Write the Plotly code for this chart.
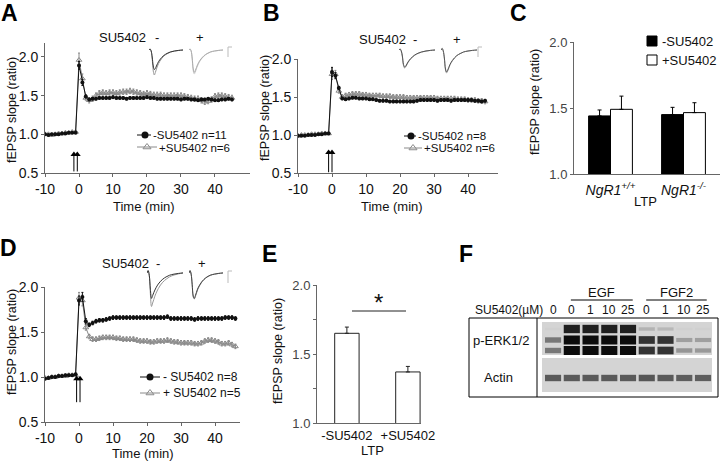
import plotly.graph_objects as go

W, H = 720, 462
FONT = "Liberation Sans, Arial, Helvetica, sans-serif"

# ------------------------------------------------------------------ data
time_ab = list(range(-10, 46))
time_d = list(range(-10, 47))

a_ctrl = [1.00, 0.99, 1.00, 1.00, 1.00, 1.01, 1.01, 1.02, 1.02, 1.02,
          1.89, 1.67, 1.49, 1.45, 1.46, 1.46, 1.47, 1.47, 1.47, 1.47,
          1.48, 1.47, 1.47, 1.47, 1.46, 1.47, 1.47, 1.47, 1.47, 1.47,
          1.48, 1.47, 1.47, 1.46, 1.46, 1.46, 1.46, 1.46, 1.46, 1.46,
          1.45, 1.46, 1.46, 1.45, 1.45, 1.44, 1.45, 1.45, 1.46, 1.45,
          1.44, 1.44, 1.45, 1.45, 1.46, 1.45]
a_ctrl_err = [0.01] * 10 + [0.05, 0.04, 0.02] + [0.015] * 43
a_su = [1.00, 1.00, 0.99, 1.00, 1.01, 1.01, 1.02, 1.02, 1.03, 1.03,
        1.96, 1.72, 1.47, 1.44, 1.46, 1.50, 1.53, 1.54, 1.53, 1.54,
        1.54, 1.53, 1.54, 1.55, 1.55, 1.56, 1.55, 1.54, 1.53, 1.52,
        1.53, 1.52, 1.51, 1.51, 1.51, 1.50, 1.50, 1.50, 1.50, 1.50,
        1.50, 1.49, 1.48, 1.47, 1.46, 1.46, 1.44, 1.42, 1.43, 1.45,
        1.49, 1.50, 1.50, 1.49, 1.48, 1.47]
a_su_err = [0.015] * 10 + [0.09, 0.06, 0.03] + [0.035] * 43

b_ctrl = [0.99, 0.99, 0.99, 1.00, 1.00, 1.00, 1.01, 1.01, 1.02, 1.02,
          1.83, 1.78, 1.62, 1.48, 1.47, 1.48, 1.49, 1.49, 1.48, 1.48,
          1.48, 1.47, 1.47, 1.46, 1.45, 1.45, 1.45, 1.44, 1.44, 1.44,
          1.44, 1.44, 1.44, 1.44, 1.44, 1.45, 1.46, 1.46, 1.46, 1.46,
          1.46, 1.45, 1.46, 1.46, 1.46, 1.45, 1.46, 1.46, 1.46, 1.46,
          1.46, 1.46, 1.45, 1.45, 1.44, 1.45]
b_ctrl_err = [0.01] * 10 + [0.06, 0.04, 0.02] + [0.015] * 43
b_su = [0.99, 1.00, 1.00, 1.00, 1.01, 1.01, 1.01, 1.02, 1.02, 1.02,
        1.80, 1.80, 1.58, 1.50, 1.52, 1.53, 1.54, 1.54, 1.54, 1.53,
        1.53, 1.52, 1.52, 1.52, 1.52, 1.51, 1.51, 1.51, 1.50, 1.50,
        1.50, 1.50, 1.49, 1.49, 1.49, 1.49, 1.49, 1.49, 1.49, 1.49,
        1.49, 1.48, 1.48, 1.48, 1.48, 1.48, 1.48, 1.47, 1.47, 1.47,
        1.46, 1.46, 1.46, 1.45, 1.45, 1.44]
b_su_err = [0.015] * 10 + [0.07, 0.05, 0.03] + [0.03] * 43

d_ctrl = [0.98, 0.99, 1.00, 1.00, 1.01, 1.01, 1.02, 1.02, 1.02, 1.03,
          1.85, 1.89, 1.62, 1.58, 1.60, 1.62, 1.63, 1.63, 1.64, 1.65,
          1.66, 1.66, 1.66, 1.66, 1.66, 1.66, 1.66, 1.66, 1.66, 1.66,
          1.66, 1.66, 1.66, 1.66, 1.66, 1.66, 1.67, 1.65, 1.65, 1.65,
          1.65, 1.65, 1.65, 1.65, 1.64, 1.65, 1.65, 1.65, 1.65, 1.65,
          1.65, 1.65, 1.65, 1.66, 1.66, 1.66, 1.65]
d_ctrl_err = [0.01] * 10 + [0.05, 0.05, 0.03] + [0.02] * 44
d_su = [0.99, 0.99, 1.00, 1.00, 1.01, 1.01, 1.01, 1.02, 1.02, 1.02,
        1.88, 1.85, 1.55, 1.45, 1.42, 1.42, 1.43, 1.44, 1.44, 1.44,
        1.44, 1.43, 1.43, 1.42, 1.42, 1.42, 1.42, 1.41, 1.40, 1.40,
        1.40, 1.39, 1.39, 1.40, 1.40, 1.40, 1.41, 1.40, 1.39, 1.39,
        1.38, 1.38, 1.38, 1.38, 1.37, 1.37, 1.38, 1.40, 1.41, 1.41,
        1.40, 1.39, 1.37, 1.37, 1.38, 1.36, 1.34]
d_su_err = [0.015] * 10 + [0.06, 0.06, 0.03] + [0.025] * 44

# theta-burst stimulation times (min) and arrow extent (ratio units)
a_stim = [-1.5, -0.5]
a_arrow = [0.52, 0.74]
b_stim = [-1.0, 0.0]
b_arrow = [0.51, 0.77]
d_stim = [-0.7, 0.3]
d_arrow = [0.72, 0.98]

ab_ticks = [-10, 0, 10, 20, 30, 40]
ab_ticktext = ["-10", "0", "10", "20", "30", "40"]
ratio_ticks = [0.5, 1.0, 1.5, 2.0]
bar_ticks = [1.0, 1.5, 2.0]

c_groups = ["NgR1+/+", "NgR1-/-"]
c_ticktext = ["<i>NgR1<sup>+/+</sup></i>", "<i>NgR1<sup>-/-</sup></i>"]
c_ctrl = [1.44, 1.45]
c_ctrl_err = [0.045, 0.055]
c_su = [1.49, 1.465]
c_su_err = [0.10, 0.075]

e_groups = ["-SU5402", "+SU5402"]
e_vals = [1.65, 1.37]
e_err = [0.045, 0.04]

# example fEPSP traces (inset), time in ms, amplitude in mV
wave_t = [0, 1, 2, 3, 4, 5, 6, 7, 8, 10, 12, 14, 17, 20, 24, 28, 32]
a_minus_pre = [0, 0.05, -0.05, -0.35, -0.80, -0.98, -0.92, -0.80, -0.68, -0.50, -0.37, -0.27, -0.17, -0.10, -0.05, -0.02, 0]
a_minus_post = [0, 0.05, -0.05, -0.45, -1.05, -1.25, -1.12, -0.95, -0.80, -0.58, -0.42, -0.30, -0.19, -0.11, -0.05, -0.02, 0]
a_plus_pre = [0, 0.05, -0.05, -0.40, -0.95, -1.12, -1.02, -0.88, -0.74, -0.54, -0.40, -0.29, -0.18, -0.10, -0.05, -0.02, 0]
a_plus_post = [0, 0.05, -0.05, -0.45, -1.05, -1.20, -1.10, -0.94, -0.80, -0.58, -0.43, -0.31, -0.19, -0.11, -0.05, -0.02, 0]
b_minus_pre = [0, 0.05, -0.05, -0.30, -0.72, -0.85, -0.80, -0.70, -0.60, -0.45, -0.34, -0.25, -0.16, -0.10, -0.05, -0.02, 0]
b_minus_post = [0, 0.05, -0.05, -0.33, -0.78, -0.90, -0.84, -0.74, -0.63, -0.47, -0.35, -0.26, -0.17, -0.10, -0.05, -0.02, 0]
b_plus_pre = [0, 0.08, -0.05, -0.40, -0.95, -1.10, -1.00, -0.86, -0.72, -0.53, -0.39, -0.28, -0.18, -0.10, -0.05, -0.02, 0]
b_plus_post = [0, 0.08, -0.05, -0.42, -1.00, -1.15, -1.05, -0.90, -0.75, -0.55, -0.40, -0.29, -0.18, -0.10, -0.05, -0.02, 0]
d_minus_pre = [0, 0.10, -0.10, -0.70, -1.10, -0.98, -0.85, -0.74, -0.64, -0.48, -0.36, -0.27, -0.17, -0.10, -0.05, -0.02, 0]
d_minus_post = [0, 0.10, -0.10, -0.90, -1.45, -1.30, -1.15, -1.00, -0.88, -0.68, -0.52, -0.40, -0.27, -0.17, -0.09, -0.04, 0]
d_plus_pre = [0, 0.10, -0.05, -0.50, -1.00, -1.10, -0.98, -0.84, -0.70, -0.52, -0.38, -0.28, -0.17, -0.10, -0.05, -0.02, 0]
d_plus_post = [0, 0.10, -0.05, -0.52, -1.04, -1.12, -1.02, -0.88, -0.74, -0.55, -0.40, -0.29, -0.18, -0.10, -0.05, -0.02, 0]

# western blot
blot_lanes = [0, 1, 2, 3, 4, 5, 6, 7, 8]
blot_lane_labels = ["0", "0", "1", "10", "25", "0", "1", "10", "25"]
perk_upper = [0.0, 0.9, 0.9, 0.9, 0.9, 0.15, 0.12, 0.0, 0.0]
perk_p44 = [0.45, 1.0, 1.0, 1.0, 1.0, 0.8, 0.8, 0.25, 0.25]
perk_p42 = [0.45, 1.0, 1.0, 1.0, 1.0, 0.8, 0.8, 0.3, 0.28]
actin = [0.6, 0.6, 0.6, 0.6, 0.6, 0.62, 0.6, 0.58, 0.58]

# ------------------------------------------------------------------ helpers
def X(p):
    return p / W


def Y(p):
    return 1 - p / H


def dx(a, b):
    return [a / W, b / W]


def dy(top, bottom):
    return [1 - bottom / H, 1 - top / H]


AXC = "#666666"


def axis(**kw):
    d = dict(showline=True, linecolor=AXC, linewidth=1, ticks="outside", ticklen=3,
             tickcolor=AXC, tickfont=dict(size=14, color="#111", family=FONT),
             showgrid=False, zeroline=False, fixedrange=True)
    d.update(kw)
    return d


def hidden(**kw):
    d = dict(visible=False, showgrid=False, zeroline=False, fixedrange=True)
    d.update(kw)
    return d


BLACK = "#111111"
GRAY = "#8a8a8a"

fig = go.Figure()


def ts_pair(t, ctrl, ctrl_err, su, su_err, stim, arrow, xa, ya):
    fig.add_trace(go.Scatter(
        x=t, y=su, mode="lines+markers", xaxis=xa, yaxis=ya, showlegend=False,
        line=dict(color=GRAY, width=1),
        marker=dict(symbol="triangle-up-open", size=5, color=GRAY, line=dict(width=1, color=GRAY)),
        error_y=dict(type="data", array=su_err, color=GRAY, thickness=1, width=1)))
    fig.add_trace(go.Scatter(
        x=t, y=ctrl, mode="lines+markers", xaxis=xa, yaxis=ya, showlegend=False,
        line=dict(color=BLACK, width=1),
        marker=dict(symbol="circle", size=4, color=BLACK),
        error_y=dict(type="data", array=ctrl_err, color=BLACK, thickness=1, width=1)))
    # stimulation arrows
    lx, ly = [], []
    for s in stim:
        lx += [s, s, None]
        ly += [arrow[0], arrow[1], None]
    fig.add_trace(go.Scatter(x=lx, y=ly, mode="lines", xaxis=xa, yaxis=ya, showlegend=False,
                             line=dict(color="#000", width=1)))
    fig.add_trace(go.Scatter(x=stim, y=[arrow[1]] * len(stim), mode="markers", xaxis=xa, yaxis=ya,
                             showlegend=False,
                             marker=dict(symbol="triangle-up", size=6, color="#000", line=dict(width=0))))


ts_pair(time_ab, a_ctrl, a_ctrl_err, a_su, a_su_err, a_stim, a_arrow, "x", "y")
ts_pair(time_ab, b_ctrl, b_ctrl_err, b_su, b_su_err, b_stim, b_arrow, "x2", "y2")
ts_pair(time_d, d_ctrl, d_ctrl_err, d_su, d_su_err, d_stim, d_arrow, "x4", "y4")

# panel C bars
fig.add_trace(go.Bar(x=c_groups, y=c_ctrl, xaxis="x3", yaxis="y3", showlegend=False,
                     marker=dict(color="#000", line=dict(color="#000", width=1)),
                     error_y=dict(type="data", symmetric=False, array=c_ctrl_err, arrayminus=[0, 0],
                                  color="#000", thickness=1, width=2)))
fig.add_trace(go.Bar(x=c_groups, y=c_su, xaxis="x3", yaxis="y3", showlegend=False,
                     marker=dict(color="#fff", line=dict(color="#000", width=1)),
                     error_y=dict(type="data", symmetric=False, array=c_su_err, arrayminus=[0, 0],
                                  color="#000", thickness=1, width=2)))

# panel E bars
fig.add_trace(go.Bar(x=e_groups, y=e_vals, xaxis="x5", yaxis="y5", showlegend=False, width=0.4,
                     marker=dict(color="#fff", line=dict(color="#222", width=1)),
                     error_y=dict(type="data", symmetric=False, array=e_err, arrayminus=[0, 0],
                                  color="#222", thickness=1, width=2)))

# insets
insets = [
    ("x6", "y6", a_minus_pre, a_minus_post, "#333", "#999"),
    ("x7", "y7", a_plus_pre, a_plus_post, "#aaa", "#cfcfcf"),
    ("x8", "y8", b_minus_pre, b_minus_post, "#555", "#999"),
    ("x9", "y9", b_plus_pre, b_plus_post, "#555", "#aaa"),
    ("x10", "y10", d_minus_pre, d_minus_post, "#333", "#999"),
    ("x11", "y11", d_plus_pre, d_plus_post, "#444", "#999"),
]
for xa, ya, pre, post, c1, c2 in insets:
    fig.add_trace(go.Scatter(x=wave_t, y=post, mode="lines", xaxis=xa, yaxis=ya, showlegend=False,
                             line=dict(color=c2, width=1), line_shape="spline"))
    fig.add_trace(go.Scatter(x=wave_t, y=pre, mode="lines", xaxis=xa, yaxis=ya, showlegend=False,
                             line=dict(color=c1, width=1), line_shape="spline"))

# blot bands
def band_color(v):
    g = int(round(208 - 196 * v))
    return f"rgb({g},{g},{g})"


for center, vals in [(7, perk_upper), (18, perk_p44), (28.5, perk_p42), (56, actin)]:
    th = [2.5 + 6.5 * v for v in vals]
    fig.add_trace(go.Bar(x=blot_lanes, y=th, base=[center - t / 2 for t in th],
                         xaxis="x12", yaxis="y12", showlegend=False, width=0.86, offset=-0.43,
                         marker=dict(color=[band_color(v) for v in vals], line=dict(width=0))))

# legends (deco axis in pixel units)
def legend_row(x0, x1, xm, y, style):
    if style == "ctrl":
        fig.add_trace(go.Scatter(x=[x0, x1], y=[y, y], mode="lines", xaxis="x13", yaxis="y13",
                                 showlegend=False, line=dict(color=BLACK, width=1)))
        fig.add_trace(go.Scatter(x=[xm], y=[y], mode="markers", xaxis="x13", yaxis="y13",
                                 showlegend=False, marker=dict(symbol="circle", size=7, color=BLACK)))
    else:
        fig.add_trace(go.Scatter(x=[x0, x1], y=[y, y], mode="lines", xaxis="x13", yaxis="y13",
                                 showlegend=False, line=dict(color=GRAY, width=1)))
        fig.add_trace(go.Scatter(x=[xm], y=[y], mode="markers", xaxis="x13", yaxis="y13",
                                 showlegend=False,
                                 marker=dict(symbol="triangle-up-open", size=7, color=GRAY,
                                             line=dict(width=1, color=GRAY))))


legend_row(137, 151, 145, 135, "ctrl")
legend_row(137, 157, 147, 147, "su")
legend_row(404, 416, 411, 136, "ctrl")
legend_row(404, 422, 413, 148, "su")
legend_row(140, 160, 150, 377, "ctrl")
legend_row(140, 160, 150, 393, "su")
fig.add_trace(go.Scatter(x=[652, 652], y=[41, 60], mode="markers", xaxis="x13", yaxis="y13",
                         showlegend=False,
                         marker=dict(symbol="square", size=10, color=["#000", "#fff"],
                                     line=dict(color="#000", width=1))))

# ------------------------------------------------------------------ layout
ann = []


def txt(x, y, s, size=12, xanchor="center", color="#111", bold=False, angle=0, xref="paper"):
    if bold:
        s = f"<b>{s}</b>"
    ann.append(dict(x=x, y=Y(y), xref=xref, yref="paper", text=s, showarrow=False,
                    xanchor=xanchor, yanchor="middle", textangle=angle,
                    font=dict(size=size, color=color, family=FONT)))


def xt(p):
    return p / W


# panel letters
for s, x, y in [("A", 9, 13), ("B", 271, 13), ("C", 518, 13), ("D", 8, 248), ("E", 269, 254), ("F", 466, 254)]:
    txt(xt(x), y, s, size=23, bold=True, color="#000")

# axis titles
yt = "fEPSP slope (ratio)"
txt(xt(12), 110, yt, angle=-90, size=12.5)
txt(xt(265), 108, yt, angle=-90, size=12.5)
txt(xt(535), 102, yt, angle=-90, size=12.5)
txt(xt(12), 342, yt, angle=-90, size=12.5)
txt(xt(278), 351, yt, angle=-90, size=12.5)
txt(xt(144), 206, "Time (min)", size=13)
txt(xt(392), 206, "Time (min)", size=13)
txt(xt(143), 453, "Time (min)", size=13)
txt(xt(645), 202, "LTP", size=13)
txt(xt(372), 450, "LTP", size=13)

# SU5402 labels over insets
for (cx, cy, m, p) in [(122, 37, 157, 200), (382, 40, 415, 457), (126, 263, 158, 202)]:
    txt(xt(cx), cy, "SU5402", size=13)
    txt(xt(m), cy, "-", size=13)
    txt(xt(p), cy, "+", size=13)

# legends text
txt(xt(151), 135, "-SU5402 n=11", xanchor="left", size=11.5)
txt(xt(157), 147.5, "+SU5402 n=6", xanchor="left", size=11.5)
txt(xt(416), 136, "-SU5402 n=8", xanchor="left", size=11.5)
txt(xt(422), 148.5, "+SU5402 n=6", xanchor="left", size=11.5)
txt(xt(161), 377, "- SU5402 n=8", xanchor="left", size=12)
txt(xt(161), 393, "+ SU5402 n=5", xanchor="left", size=12)
txt(xt(660), 41, "-SU5402", xanchor="left", size=13)
txt(xt(660), 60, "+SU5402", xanchor="left", size=13)

# significance
txt(xt(378), 302, "*", size=24)

# blot labels
txt(xt(545), 310, "SU5402(µM)", xanchor="right")
for i, lab in zip(blot_lanes, blot_lane_labels):
    txt(i, 310, lab, xref="x12")
txt(2.6, 292, "EGF", xref="x12", size=13)
txt(6.6, 292, "FGF2", xref="x12", size=13)
txt(xt(501), 340, "p-ERK1/2", size=13)
txt(xt(498), 377, "Actin", size=13)

shapes = []
# significance line
shapes.append(dict(type="line", xref="paper", yref="paper", x0=X(352), x1=X(406), y0=Y(311), y1=Y(311),
                   line=dict(color="#222", width=1)))
# scale bars of insets
for (sx, sy, sh) in [(228, 47, 10), (478, 47, 10), (228, 271, 12)]:
    shapes.append(dict(type="path", xref="paper", yref="paper",
                       path=f"M {X(sx)},{Y(sy + sh)} L {X(sx)},{Y(sy)} L {X(sx + 4)},{Y(sy)}",
                       line=dict(color="#bbbbbb", width=1)))
# blot frame
shapes.append(dict(type="rect", xref="paper", yref="paper", x0=X(469), x1=X(718), y0=Y(397), y1=Y(318),
                   line=dict(color="#000", width=1)))
shapes.append(dict(type="line", xref="paper", yref="paper", x0=X(537), x1=X(537), y0=Y(397), y1=Y(318),
                   line=dict(color="#000", width=1)))
# blot backgrounds
for y0, y1 in [(0, 33), (36, 70)]:
    shapes.append(dict(type="rect", xref="x12", yref="y12", x0=-0.59, x1=8.48, y0=y0, y1=y1,
                       fillcolor="#d4d4d4", line=dict(width=0), layer="below"))
# EGF / FGF2 lines
for a, b in [(0.95, 4.25), (4.97, 8.2)]:
    shapes.append(dict(type="line", xref="x12", yref="paper", x0=a, x1=b, y0=Y(300), y1=Y(300),
                       line=dict(color="#000", width=1)))

layout = dict(
    width=W, height=H, margin=dict(l=0, r=0, t=0, b=0, autoexpand=False),
    paper_bgcolor="white", plot_bgcolor="rgba(0,0,0,0)",
    font=dict(family=FONT, size=12, color="#111"),
    showlegend=False, barmode="group", bargap=0.4, bargroupgap=0,
    annotations=ann, shapes=shapes,
    # A
    xaxis=axis(domain=dx(45, 250), range=[-10, 50.3], tickvals=ab_ticks, ticktext=ab_ticktext, anchor="y"),
    yaxis=axis(domain=dy(43, 173), range=[0.5, 2.18], tickvals=ratio_ticks, tickformat=".1f", anchor="x"),
    # B
    xaxis2=axis(domain=dx(298, 498), range=[-10, 48.8], tickvals=ab_ticks, ticktext=ab_ticktext, anchor="y2"),
    yaxis2=axis(domain=dy(59, 173), range=[0.5, 2.0], tickvals=ratio_ticks, tickformat=".1f", anchor="x2"),
    # C
    xaxis3=axis(domain=dx(574, 720), range=[-0.5, 1.5], tickvals=c_groups, ticktext=c_ticktext,
                ticks="", anchor="y3", ticklabelstandoff=3,
                tickfont=dict(size=14, color="#111", family=FONT)),
    yaxis3=axis(domain=dy(42, 174), range=[1.0, 2.0], tickvals=bar_ticks, tickformat=".1f", anchor="x3",
                tickfont=dict(size=13, color="#444", family=FONT)),
    # D
    xaxis4=axis(domain=dx(45, 240), range=[-10, 47.35], tickvals=ab_ticks, ticktext=ab_ticktext, anchor="y4"),
    yaxis4=axis(domain=dy(287, 422), range=[0.5, 2.0], tickvals=ratio_ticks, tickformat=".1f", anchor="x4"),
    # E
    xaxis5=axis(domain=dx(317, 421), range=[-0.49, 1.215], ticks="", anchor="y5",
                tickfont=dict(size=13, color="#111", family=FONT)),
    yaxis5=axis(domain=dy(285, 423), range=[1.0, 2.0], tickvals=bar_ticks, tickformat=".1f", anchor="x5",
                tickfont=dict(size=13, color="#444", family=FONT),
                minor=dict(ticks="outside", ticklen=3, dtick=0.25, tickcolor=AXC)),
    # insets
    xaxis6=hidden(domain=dx(149, 183), range=[0, 32], anchor="y6"),
    yaxis6=hidden(domain=dy(46, 80), range=[-1.5, 0.2], anchor="x6"),
    xaxis7=hidden(domain=dx(189, 223), range=[0, 32], anchor="y7"),
    yaxis7=hidden(domain=dy(46, 80), range=[-1.5, 0.2], anchor="x7"),
    xaxis8=hidden(domain=dx(399, 435), range=[0, 32], anchor="y8"),
    yaxis8=hidden(domain=dy(46, 80), range=[-1.5, 0.2], anchor="x8"),
    xaxis9=hidden(domain=dx(441, 477), range=[0, 32], anchor="y9"),
    yaxis9=hidden(domain=dy(46, 80), range=[-1.5, 0.2], anchor="x9"),
    xaxis10=hidden(domain=dx(147, 183), range=[0, 32], anchor="y10"),
    yaxis10=hidden(domain=dy(266, 310), range=[-1.6, 0.3], anchor="x10"),
    xaxis11=hidden(domain=dx(189, 223), range=[0, 32], anchor="y11"),
    yaxis11=hidden(domain=dy(266, 310), range=[-1.6, 0.3], anchor="x11"),
    # blot
    xaxis12=hidden(domain=dx(542, 712), range=[-0.59, 8.48], anchor="y12"),
    yaxis12=hidden(domain=dy(322, 392), range=[70, 0], anchor="x12"),
    # deco (pixel space)
    xaxis13=hidden(domain=[0, 1], range=[0, W], anchor="y13"),
    yaxis13=hidden(domain=[0, 1], range=[H, 0], anchor="x13"),
)
fig.update_layout(**layout)
fig.write_html("out.html", config={"displayModeBar": False, "staticPlot": True},
               post_script="document.body.style.margin='0';document.body.style.overflow='hidden';")
